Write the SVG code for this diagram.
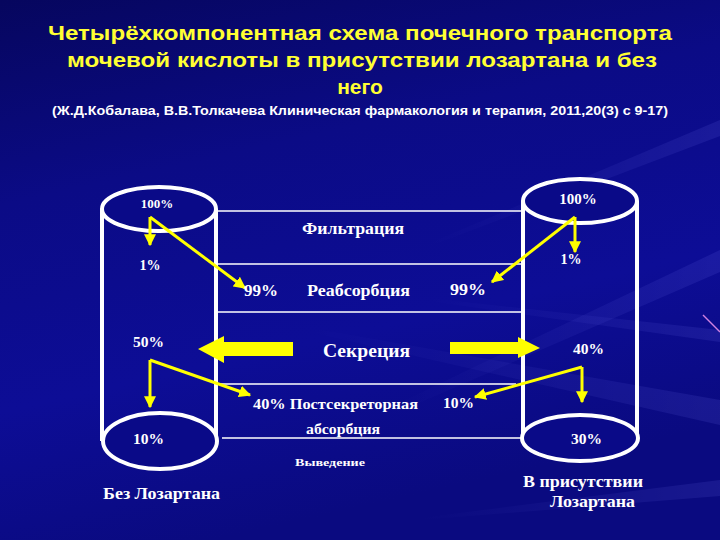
<svg xmlns="http://www.w3.org/2000/svg" width="720" height="540" viewBox="0 0 720 540">
<defs>
<linearGradient id="bg" x1="0" y1="0" x2="0.3" y2="1">
<stop offset="0" stop-color="#06065e"/>
<stop offset="0.35" stop-color="#0b0b86"/>
<stop offset="0.7" stop-color="#0d0d96"/>
<stop offset="1" stop-color="#0a0a80"/>
</linearGradient>
<linearGradient id="ray" x1="1" y1="0" x2="0" y2="0">
<stop offset="0" stop-color="#8080ff" stop-opacity="0.25"/>
<stop offset="1" stop-color="#8080ff" stop-opacity="0"/>
</linearGradient>
<marker id="ah" viewBox="0 0 10 10" refX="9" refY="5" markerWidth="4" markerHeight="4" orient="auto" markerUnits="strokeWidth">
<path d="M0,0 L10,5 L0,10 z" fill="#ffff00"/>
</marker>
<style>
.cyl{fill:#0a0a88;stroke:#ffffff;stroke-width:4}
.side{stroke:#ffffff;stroke-width:4}
.hl{stroke:#ffffff;stroke-width:1.3}
.ya{fill:none;stroke:#ffff00;stroke-width:3;marker-end:url(#ah)}
.big{fill:#ffff00}
.t{font-family:"Liberation Serif","Times New Roman",serif;font-weight:bold;fill:#ffffff}
.title{font-family:"Liberation Sans",Arial,sans-serif;font-weight:bold;fill:#ffff33;font-size:21px}
.sub{font-family:"Liberation Sans",Arial,sans-serif;font-weight:bold;fill:#ffffff;font-size:12px}
</style>
</defs>
<rect width="720" height="540" fill="url(#bg)"/>
<g opacity="0.5">
<polygon points="720,250 720,272 380,420 380,412" fill="url(#ray)"/>
<polygon points="720,330 720,342 420,300 420,297" fill="url(#ray)"/>
<polygon points="720,400 720,425 300,330 300,326" fill="url(#ray)"/>
<polygon points="720,120 720,136 420,250 420,247" fill="url(#ray)"/>
<polygon points="720,480 720,496 420,520 420,518" fill="url(#ray)"/>
</g>
<line x1="703" y1="315" x2="720" y2="332" stroke="#d080e0" stroke-width="1.5"/>

<g id="title">
<text class="title" x="360" y="40" text-anchor="middle" textLength="624" lengthAdjust="spacingAndGlyphs">Четырёхкомпонентная схема почечного транспорта</text>
<text class="title" x="362" y="67" text-anchor="middle" textLength="590" lengthAdjust="spacingAndGlyphs">мочевой кислоты в присутствии лозартана и без</text>
<text class="title" x="360" y="94" text-anchor="middle">него</text>
<text class="sub" x="52" y="115" textLength="616" lengthAdjust="spacingAndGlyphs">(Ж.Д.Кобалава, В.В.Толкачева Клиническая фармакология и терапия, 2011,20(3) с 9-17)</text>
</g>

<g id="cyl-left">
<line class="side" x1="102" y1="209" x2="102" y2="441"/>
<line class="side" x1="216" y1="209" x2="216" y2="441"/>
<ellipse class="cyl" cx="159" cy="209" rx="57" ry="22"/>
<ellipse class="cyl" cx="160" cy="441" rx="57" ry="28"/>
</g>
<g id="cyl-right">
<line class="side" x1="523" y1="201" x2="523" y2="438"/>
<line class="side" x1="637" y1="201" x2="637" y2="438"/>
<ellipse class="cyl" cx="580" cy="201" rx="57" ry="22"/>
<ellipse class="cyl" cx="580" cy="438" rx="58" ry="23"/>
</g>

<g id="connectors">
<line class="hl" x1="218" y1="211" x2="521" y2="211"/>
<line class="hl" x1="218" y1="264" x2="521" y2="264"/>
<line class="hl" x1="218" y1="312" x2="521" y2="312"/>
<line class="hl" x1="219" y1="384" x2="516" y2="384"/>
<line class="hl" x1="222" y1="438" x2="521" y2="438"/>
<line class="ya" x1="150" y1="217" x2="150" y2="245"/>
<line class="ya" x1="150" y1="217" x2="245" y2="288"/>
<line class="ya" x1="575" y1="217" x2="575" y2="252"/>
<line class="ya" x1="575" y1="217" x2="492" y2="282"/>
<line class="ya" x1="150" y1="360" x2="150" y2="407"/>
<line class="ya" x1="150" y1="360" x2="250" y2="395"/>
<line class="ya" x1="582" y1="367" x2="582" y2="402"/>
<line class="ya" x1="582" y1="367" x2="475" y2="397"/>
<polygon class="big" points="293,342 224,342 224,336 198,349 224,363 224,356 293,356"/>
<polygon class="big" points="450,342 518,342 518,337 540,348 518,358 518,354 450,354"/>
</g>

<g id="labels">
<text class="t" x="157" y="208" font-size="13" text-anchor="middle">100%</text>
<text class="t" x="578" y="204" font-size="15" text-anchor="middle">100%</text>
<text class="t" x="353" y="234" font-size="16" text-anchor="middle" textLength="102" lengthAdjust="spacingAndGlyphs">Фильтрация</text>
<text class="t" x="150" y="270" font-size="14" text-anchor="middle">1%</text>
<text class="t" x="571" y="264" font-size="14" text-anchor="middle">1%</text>
<text class="t" x="244" y="296" font-size="16" textLength="34" lengthAdjust="spacingAndGlyphs">99%</text>
<text class="t" x="307" y="296" font-size="16" textLength="103" lengthAdjust="spacingAndGlyphs">Реабсорбция</text>
<text class="t" x="450" y="295" font-size="16" textLength="36" lengthAdjust="spacingAndGlyphs">99%</text>
<text class="t" x="133" y="347" font-size="14" textLength="31" lengthAdjust="spacingAndGlyphs">50%</text>
<text class="t" x="323" y="357" font-size="18" textLength="87" lengthAdjust="spacingAndGlyphs">Секреция</text>
<text class="t" x="573" y="354" font-size="14" textLength="31" lengthAdjust="spacingAndGlyphs">40%</text>
<text class="t" x="253" y="409" font-size="14" textLength="165" lengthAdjust="spacingAndGlyphs">40%  Постсекреторная</text>
<text class="t" x="443" y="408" font-size="14" textLength="31" lengthAdjust="spacingAndGlyphs">10%</text>
<text class="t" x="306" y="434" font-size="14" textLength="74" lengthAdjust="spacingAndGlyphs">абсорбция</text>
<text class="t" x="133" y="444" font-size="14" textLength="31" lengthAdjust="spacingAndGlyphs">10%</text>
<text class="t" x="571" y="444" font-size="14" textLength="31" lengthAdjust="spacingAndGlyphs">30%</text>
<text class="t" x="295" y="466" font-size="11" textLength="70" lengthAdjust="spacingAndGlyphs">Выведение</text>
<text class="t" x="103" y="499" font-size="16" textLength="117" lengthAdjust="spacingAndGlyphs">Без Лозартана</text>
<text class="t" x="523" y="487" font-size="16" textLength="120" lengthAdjust="spacingAndGlyphs">В присутствии</text>
<text class="t" x="550" y="507" font-size="16" textLength="85" lengthAdjust="spacingAndGlyphs">Лозартана</text>
</g>
</svg>
